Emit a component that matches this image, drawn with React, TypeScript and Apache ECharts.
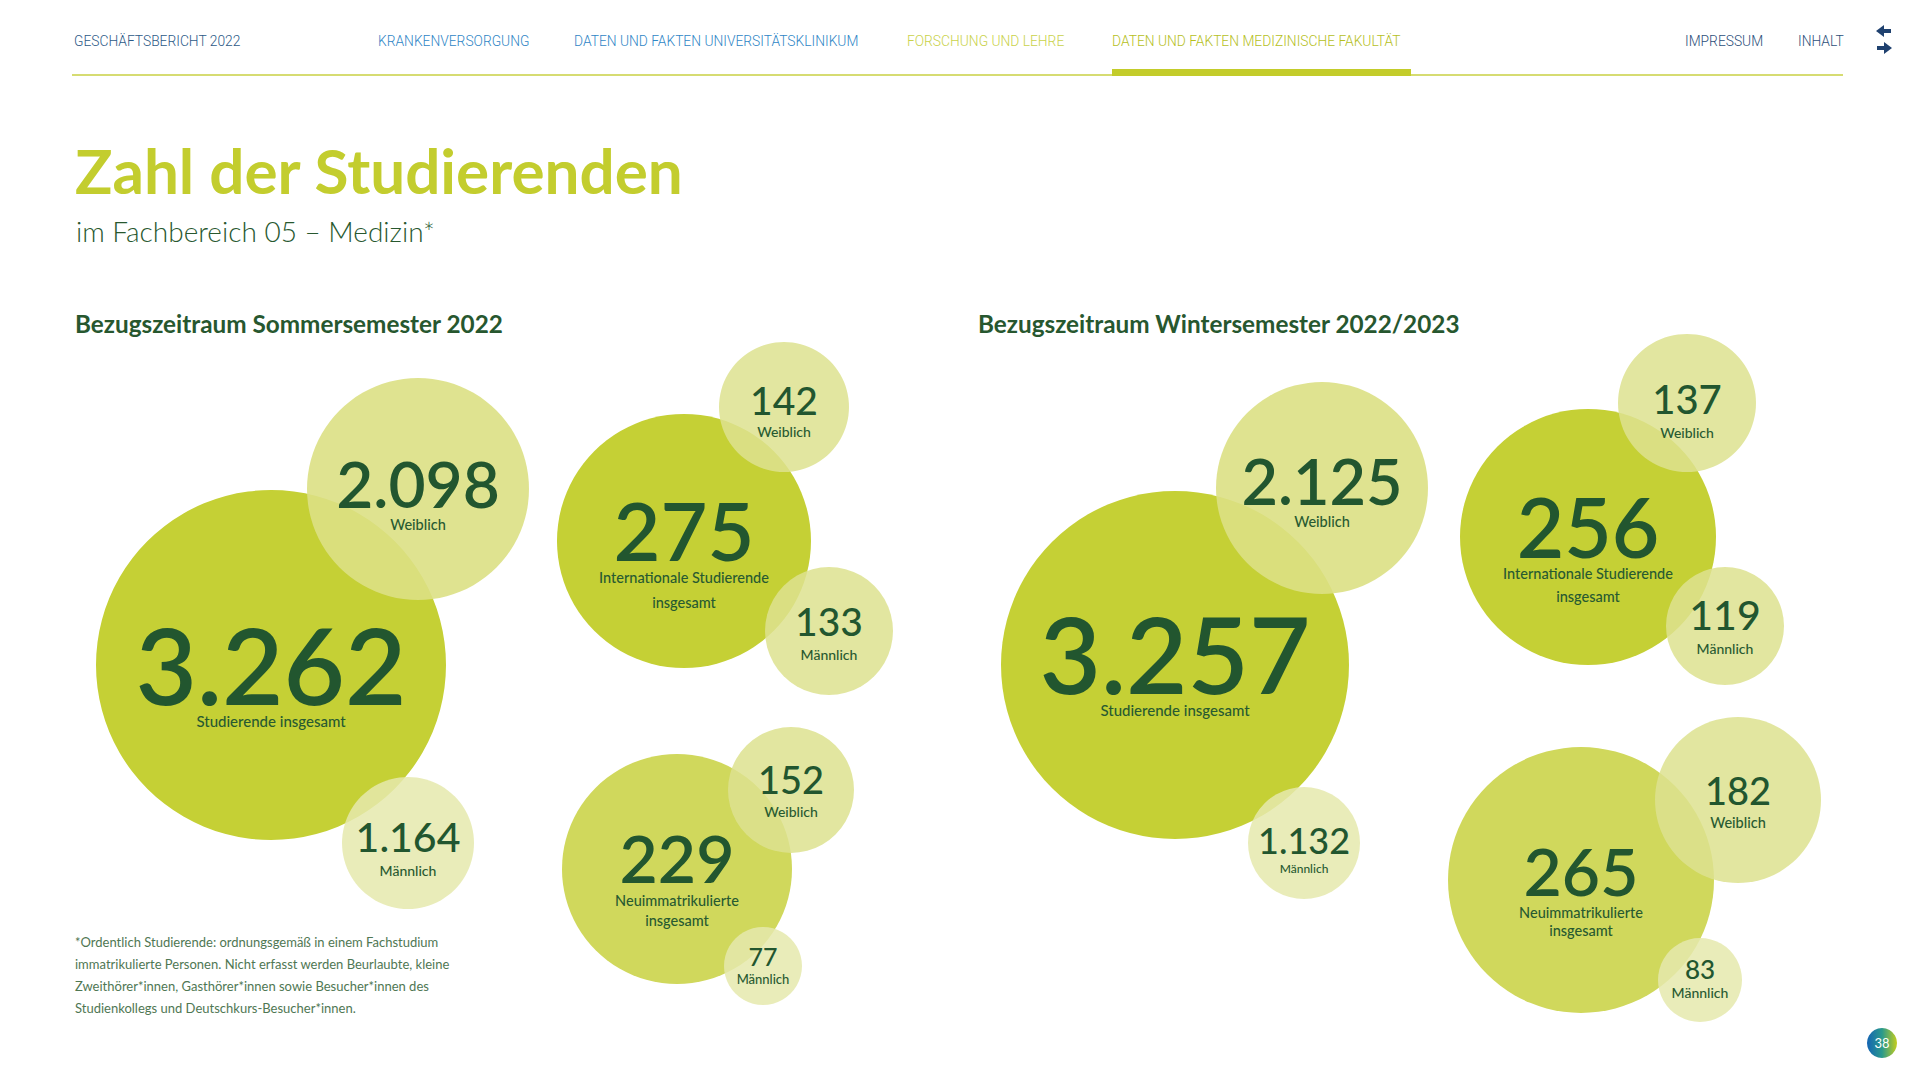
import React, { useEffect, useRef } from 'react';
import * as echarts from 'echarts';

// ---------- data ----------
const groupLabels = ['Studierende insgesamt', 'Internationale Studierende\ninsgesamt', 'Neuimmatrikulierte\ninsgesamt'];
const weiblichLabel = 'Weiblich';
const maennlichLabel = 'Männlich';
const sommerGesamt = [3262, 275, 229];
const sommerWeiblich = [2098, 142, 152];
const sommerMaennlich = [1164, 133, 77];
const winterGesamt = [3257, 256, 265];
const winterWeiblich = [2125, 137, 182];
const winterMaennlich = [1132, 119, 83];
const pageTitle = 'Zahl der Studierenden';
const pageSubtitle = 'im Fachbereich 05 – Medizin*';
const panelTitles = ['Bezugszeitraum Sommersemester 2022', 'Bezugszeitraum Wintersemester 2022/2023'];
const navItems = ['GESCHÄFTSBERICHT 2022', 'KRANKENVERSORGUNG', 'DATEN UND FAKTEN UNIVERSITÄTSKLINIKUM', 'FORSCHUNG UND LEHRE', 'DATEN UND FAKTEN MEDIZINISCHE FAKULTÄT', 'IMPRESSUM', 'INHALT'];
const footnoteLines = [
  '*Ordentlich Studierende: ordnungsgemäß in einem Fachstudium',
  'immatrikulierte Personen. Nicht erfasst werden Beurlaubte, kleine',
  'Zweithörer*innen, Gasthörer*innen sowie Besucher*innen des',
  'Studienkollegs und Deutschkurs-Besucher*innen.',
];
const pageNumber = '38';

// ---------- layout (positions / sizes, page pixels) ----------
type Slot = { x: number; y: number; r: number; tone: string; ns: number; nw: number; ls: number; dyN: number; gap: number; ll: number };
const sommerGesamtSlots: Slot[] = [
  { x: 271, y: 665, r: 175, tone: 'main', ns: 106, nw: 600, ls: 15, dyN: -1, gap: 57, ll: 20 },
  { x: 684, y: 541, r: 127, tone: 'main', ns: 81, nw: 600, ls: 14.5, dyN: -12, gap: 48, ll: 25 },
  { x: 677, y: 869, r: 115, tone: 'neu', ns: 66, nw: 600, ls: 14.5, dyN: -12, gap: 43, ll: 20 },
];
const sommerWeiblichSlots: Slot[] = [
  { x: 418, y: 489, r: 111, tone: 'wA', ns: 64, nw: 600, ls: 14.5, dyN: -6, gap: 41, ll: 18 },
  { x: 784, y: 407, r: 65, tone: 'wB', ns: 39, nw: 500, ls: 14, dyN: -7, gap: 31.5, ll: 18 },
  { x: 791, y: 790, r: 63, tone: 'wB', ns: 38, nw: 500, ls: 14, dyN: -11, gap: 32.5, ll: 18 },
];
const sommerMaennlichSlots: Slot[] = [
  { x: 408, y: 843, r: 66, tone: 'mA', ns: 41, nw: 500, ls: 14, dyN: -7, gap: 34.5, ll: 18 },
  { x: 829, y: 631, r: 64, tone: 'wB', ns: 39, nw: 500, ls: 14, dyN: -10, gap: 33, ll: 18 },
  { x: 763, y: 966, r: 39, tone: 'mA', ns: 25, nw: 500, ls: 13, dyN: -10, gap: 23, ll: 16 },
];
const winterGesamtSlots: Slot[] = [
  { x: 1175, y: 665, r: 174, tone: 'main', ns: 106, nw: 600, ls: 15, dyN: -12, gap: 57, ll: 20 },
  { x: 1588, y: 537, r: 128, tone: 'main', ns: 82, nw: 600, ls: 14.5, dyN: -11, gap: 47, ll: 23 },
  { x: 1581, y: 880, r: 133, tone: 'neu', ns: 66, nw: 600, ls: 14.5, dyN: -10, gap: 42.5, ll: 18 },
];
const winterWeiblichSlots: Slot[] = [
  { x: 1322, y: 488, r: 106, tone: 'wA', ns: 63, nw: 600, ls: 14.5, dyN: -8, gap: 41, ll: 18 },
  { x: 1687, y: 403, r: 69, tone: 'wB', ns: 40, nw: 500, ls: 14, dyN: -4, gap: 33, ll: 18 },
  { x: 1738, y: 800, r: 83, tone: 'wB', ns: 38, nw: 500, ls: 14.5, dyN: -10, gap: 32, ll: 18 },
];
const winterMaennlichSlots: Slot[] = [
  { x: 1304, y: 843, r: 56, tone: 'mA', ns: 36, nw: 500, ls: 12, dyN: -3, gap: 28, ll: 16 },
  { x: 1725, y: 626, r: 59, tone: 'wB', ns: 41, nw: 500, ls: 14, dyN: -12, gap: 34, ll: 18 },
  { x: 1700, y: 980, r: 42, tone: 'mA', ns: 26, nw: 500, ls: 14, dyN: -11.5, gap: 24, ll: 16 },
];
const navX = [74, 378, 574, 907, 1112, 1685, 1798];
const navColors = ['#2D5A87', '#2F86C6', '#2F86C6', '#C9D24A', '#B5C01C', '#2D4F7A', '#2D4F7A'];

// ---------- styles ----------
const FONT = 'Lato, "Open Sans", sans-serif';
const NAV_FONT = 'Roboto, "Open Sans", sans-serif';
const TEXT = '#22562F';
const LABEL = '#285A31';
const TONES: Record<string, string> = {
  main: '#C5D035',
  neu: '#D0D85C',
  wA: 'rgba(219,224,132,0.9)',
  wB: 'rgba(221,226,143,0.85)',
  mA: 'rgba(229,233,173,0.85)',
};

const fmt = (n: number) => String(n).replace(/\B(?=(\d{3})+(?!\d))/g, '.');

function bubble(value: number, label: string, slot: Slot) {
  const lines = label.split('\n');
  const k = lines.length;
  const ln = 2 * (slot.gap - slot.ll / 2);
  const off = slot.dyN + (k * slot.ll) / 2;
  return {
    value: [slot.x, slot.y, value],
    name: label.replace('\n', ' '),
    symbolSize: slot.r * 2,
    itemStyle: { color: TONES[slot.tone], opacity: 1 },
    label: {
      show: true,
      position: 'inside',
      offset: [0, off],
      color: TEXT,
      textBorderWidth: 0,
      textBorderColor: 'transparent',
      formatter: `{n|${fmt(value)}}\n` + lines.map((l) => `{l|${l}}`).join('\n'),
      rich: {
        n: { fontSize: slot.ns, lineHeight: ln, fontWeight: slot.nw, color: TEXT, fontFamily: FONT, textBorderWidth: 0 },
        l: { fontSize: slot.ls, lineHeight: slot.ll, color: LABEL, fontFamily: FONT, fontWeight: 500, textBorderWidth: 0 },
      },
    },
  };
}

function buildData() {
  const out: any[] = [];
  sommerGesamt.forEach((v, i) => out.push(bubble(v, groupLabels[i], sommerGesamtSlots[i])));
  winterGesamt.forEach((v, i) => out.push(bubble(v, groupLabels[i], winterGesamtSlots[i])));
  sommerWeiblich.forEach((v, i) => out.push(bubble(v, weiblichLabel, sommerWeiblichSlots[i])));
  winterWeiblich.forEach((v, i) => out.push(bubble(v, weiblichLabel, winterWeiblichSlots[i])));
  sommerMaennlich.forEach((v, i) => out.push(bubble(v, maennlichLabel, sommerMaennlichSlots[i])));
  winterMaennlich.forEach((v, i) => out.push(bubble(v, maennlichLabel, winterMaennlichSlots[i])));
  return out;
}

function buildGraphics() {
  const g: any[] = [];
  navItems.forEach((t, i) => {
    g.push({
      type: 'text', x: navX[i], y: 41,
      style: { text: t, fill: navColors[i], fontSize: 13.8, fontFamily: NAV_FONT, fontWeight: 300, align: 'left', verticalAlign: 'middle' },
    });
  });
  g.push({ type: 'line', shape: { x1: 72, y1: 75, x2: 1843, y2: 75 }, style: { stroke: '#D6DC72', lineWidth: 2 } });
  g.push({ type: 'rect', shape: { x: 1112, y: 69, width: 299, height: 7 }, style: { fill: '#C3CC2A' } });
  // nav arrows
  g.push({ type: 'polygon', shape: { points: [[1876, 31], [1884, 25], [1884, 29], [1891, 29], [1891, 33], [1884, 33], [1884, 37]] }, style: { fill: '#1F416F' } });
  g.push({ type: 'polygon', shape: { points: [[1892, 48], [1884, 42], [1884, 46], [1877, 46], [1877, 50], [1884, 50], [1884, 54]] }, style: { fill: '#1F416F' } });
  g.push({ type: 'text', x: 75, y: 170, style: { text: pageTitle, fill: '#C3CD2E', fontSize: 62, fontWeight: 700, fontFamily: FONT, verticalAlign: 'middle' } });
  g.push({ type: 'text', x: 76, y: 231, style: { text: pageSubtitle, fill: '#28582F', fontSize: 28, fontWeight: 300, fontFamily: FONT, verticalAlign: 'middle' } });
  g.push({ type: 'text', x: 75, y: 323, style: { text: panelTitles[0], fill: '#27572F', fontSize: 24.3, fontWeight: 700, fontFamily: FONT, verticalAlign: 'middle' } });
  g.push({ type: 'text', x: 978, y: 323, style: { text: panelTitles[1], fill: '#27572F', fontSize: 24.3, fontWeight: 700, fontFamily: FONT, verticalAlign: 'middle' } });
  footnoteLines.forEach((t, i) => {
    g.push({ type: 'text', x: 75, y: 942 + i * 22, style: { text: t, fill: '#4F7753', fontSize: 13, fontWeight: 400, fontFamily: FONT, verticalAlign: 'middle' } });
  });
  g.push({
    type: 'circle', shape: { cx: 1882, cy: 1043, r: 15 },
    style: {
      fill: new echarts.graphic.LinearGradient(0, 0, 1, 0, [
        { offset: 0, color: '#1464B4' },
        { offset: 0.5, color: '#2A9A8C' },
        { offset: 1, color: '#C3CD1E' },
      ]),
    },
  });
  g.push({ type: 'text', x: 1882, y: 1043, style: { text: pageNumber, fill: '#FFFFFF', fontSize: 13, fontFamily: FONT, align: 'center', verticalAlign: 'middle' } });
  return g;
}

export default function App() {
  const ref = useRef<HTMLDivElement>(null);
  useEffect(() => {
    if (!ref.current) return;
    const chart = echarts.init(ref.current, undefined, { renderer: 'svg' });
    chart.setOption({
      animation: false,
      backgroundColor: '#FFFFFF',
      grid: { left: 0, right: 0, top: 0, bottom: 0 },
      xAxis: { type: 'value', min: 0, max: 1920, show: false },
      yAxis: { type: 'value', min: 0, max: 1080, inverse: true, show: false },
      series: [
        {
          type: 'scatter',
          symbol: 'circle',
          silent: true,
          itemStyle: { opacity: 1 },
          data: buildData(),
          emphasis: { disabled: true },
        },
      ],
      graphic: buildGraphics(),
    });
    return () => chart.dispose();
  }, []);
  return <div ref={ref} style={{ position: 'fixed', left: 0, top: 0, width: 1920, height: 1080 }} />;
}
